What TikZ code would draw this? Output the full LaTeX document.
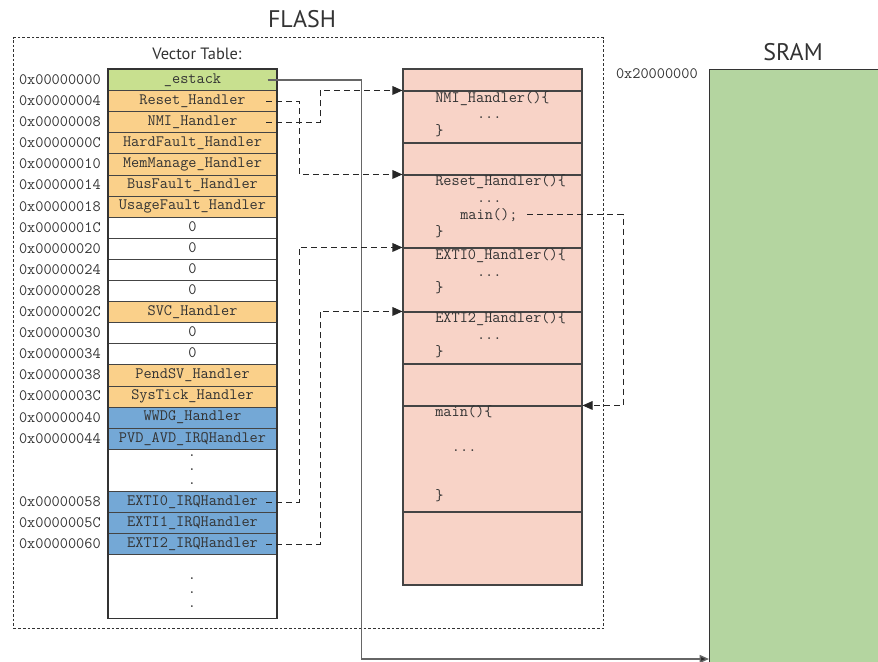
\documentclass[tikz,border=0pt]{standalone}
\usepackage{fontspec}
\setsansfont{PT Sans}
\usetikzlibrary{arrows.meta}
\definecolor{cgreen}{HTML}{C8E08F}
\definecolor{corange}{HTML}{FAD08A}
\definecolor{cblue}{HTML}{74A8D6}
\definecolor{cwhite}{HTML}{FFFFFF}
\definecolor{cpink}{HTML}{F8D3C7}
\definecolor{csram}{HTML}{B4D5A0}
\definecolor{cline}{HTML}{444444}
\definecolor{ctext}{HTML}{333333}
\definecolor{cgrayline}{HTML}{666666}
\newcommand\monof{\fontsize{11.9pt}{13pt}\selectfont\ttfamily}
\begin{document}
\begin{tikzpicture}[x=0.75pt,y=-0.75pt,
  cell/.style={draw=cline, line width=0.8pt, minimum width=126pt, minimum height=15.825pt,
    inner sep=0pt, anchor=north west, font=\monof, text=ctext, text height=1.5ex, text depth=0.35ex},
  addr/.style={anchor=east, inner sep=0pt, font=\monof, text=ctext},
  code/.style={anchor=base west, inner sep=0pt, font=\monof, text=ctext},
  dotc/.style={anchor=base, inner sep=0pt, font=\monof, text=ctext},
  pinkbox/.style={draw=cline, line width=0.8pt, fill=cpink, minimum width=134.25pt, inner sep=0pt},
  title/.style={font=\sffamily\fontsize{18pt}{20pt}\selectfont, text=ctext, inner sep=0pt},
  subtitle/.style={font=\sffamily\fontsize{12.3pt}{14pt}\selectfont, text=ctext, inner sep=0pt},
  conn/.style={draw=black!85, line width=0.8pt, dash pattern=on 4.5pt off 3pt, -{Triangle[length=7.5pt,width=6.5pt]}},
  solidconn/.style={draw=cgrayline, line width=1.1pt, -{Triangle[length=7pt,width=6pt,fill=black!85]}}
]
\useasboundingbox (0,0) rectangle (878,661);

% FLASH frame and titles
\node[draw=ctext, line width=0.75pt, dash pattern=on 2pt off 1.5pt, minimum width=442.5pt, minimum height=443.25pt,
  inner sep=0pt, anchor=north west] (flash) at (13,37) {};
\node[title] (flashT) at (302,19) {FLASH};
\node[title] (sramT) at (793,52) {SRAM};
\node[subtitle] (vt) at (197,54) {Vector Table:};

% Vector table rows
\foreach \i/\c/\t/\a in {0/cgreen/\_estack/00000000,
  1/corange/Reset\_Handler/00000004,
  2/corange/NMI\_Handler/00000008,
  3/corange/HardFault\_Handler/0000000C,
  4/corange/MemManage\_Handler/00000010,
  5/corange/BusFault\_Handler/00000014,
  6/corange/UsageFault\_Handler/00000018,
  7/cwhite/0/0000001C,
  8/cwhite/0/00000020,
  9/cwhite/0/00000024,
  10/cwhite/0/00000028,
  11/corange/SVC\_Handler/0000002C,
  12/cwhite/0/00000030,
  13/cwhite/0/00000034,
  14/corange/PendSV\_Handler/00000038,
  15/corange/SysTick\_Handler/0000003C,
  16/cblue/WWDG\_Handler/00000040,
  17/cblue/PVD\_AVD\_IRQHandler/00000044,
  20/cblue/EXTI0\_IRQHandler/00000058,
  21/cblue/EXTI1\_IRQHandler/0000005C,
  22/cblue/EXTI2\_IRQHandler/00000060} {
  \node[cell, fill=\c] (r\i) at (108,{69+21.1*\i}) {\t};
  \node[addr] (a\i) at (101,{79.55+21.1*\i}) {0x\a};
}
\node[cell, fill=white, minimum height=31.65pt] (d1) at (108,448.8) {};
\node[cell, fill=white, minimum height=47.475pt] (d2) at (108,554.3) {};
\foreach \k in {0,1,2} {
  \node[dotc] at (192,{456+14*\k}) {.};
  \node[dotc] at (192,{579+14*\k}) {.};
}
\draw[ctext, line width=1pt] (r0.north west) rectangle (d2.south east);

% Code region
\node[pinkbox, minimum height=16.5pt] (s0) at (492.5,80) {};
\node[pinkbox, minimum height=39pt] (s1) at (492.5,117) {};
\node[pinkbox, minimum height=24pt] (s2) at (492.5,159) {};
\node[pinkbox, minimum height=54.75pt] (s3) at (492.5,211.5) {};
\node[pinkbox, minimum height=48pt] (s4) at (492.5,280) {};
\node[pinkbox, minimum height=39pt] (s5) at (492.5,338) {};
\node[pinkbox, minimum height=31.5pt] (s6) at (492.5,385) {};
\node[pinkbox, minimum height=79.5pt] (s7) at (492.5,459) {};
\node[pinkbox, minimum height=54.75pt] (s8) at (492.5,548.5) {};

\node[code] (n1) at (435,102) {NMI\_Handler()\{};
\node[code] (n2) at (476.8,118.5) {...};
\node[code] (n3) at (435,135) {\}};

\node[code] (m1) at (435,185) {Reset\_Handler()\{};
\node[code] (m2) at (476.8,202) {...};
\node[code] (mcall) at (460,219) {main();};
\node[code] (m4) at (435,236) {\}};

\node[code] (e1) at (435,259.3) {EXTI0\_Handler()\{};
\node[code] (e2) at (476.8,276) {...};
\node[code] (e3) at (435,292.7) {\}};

\node[code] (f1) at (435,322.7) {EXTI2\_Handler()\{};
\node[code] (f2) at (476.8,339.3) {...};
\node[code] (f3) at (435,356) {\}};

\node[code] (g1) at (435,416.5) {main()\{};
\node[code] (g2) at (451.7,451) {...};
\node[code] (g3) at (435,500) {\}};

% SRAM
\node[draw=ctext, line width=0.9pt, fill=csram, minimum width=132pt, minimum height=450.75pt,
  inner sep=0pt, anchor=north west] (sram) at (709,69) {};
\node[addr] (sramA) at (698,74) {0x20000000};
\coordinate (sramIn) at (709,659);

% Connectors
\draw[solidconn] ([xshift=-7pt]r0.east) -- ++(94,0) |- (sramIn);
\draw[conn] ([xshift=-8.25pt]r1.east) -- ++(33,0) |- (s3.north west);
\draw[conn] ([xshift=-8.25pt]r2.east) -- ++(54,0) |- (s1.north west);
\draw[conn] ([xshift=-8.25pt]r20.east) -- ++(33,0) |- (s4.north west);
\draw[conn] ([xshift=-8.25pt]r22.east) -- ++(54,0) |- (s5.north west);
\draw[conn] ([xshift=7pt]mcall.east) -- ++(96,0) |- (s7.north east);
\end{tikzpicture}
\end{document}
